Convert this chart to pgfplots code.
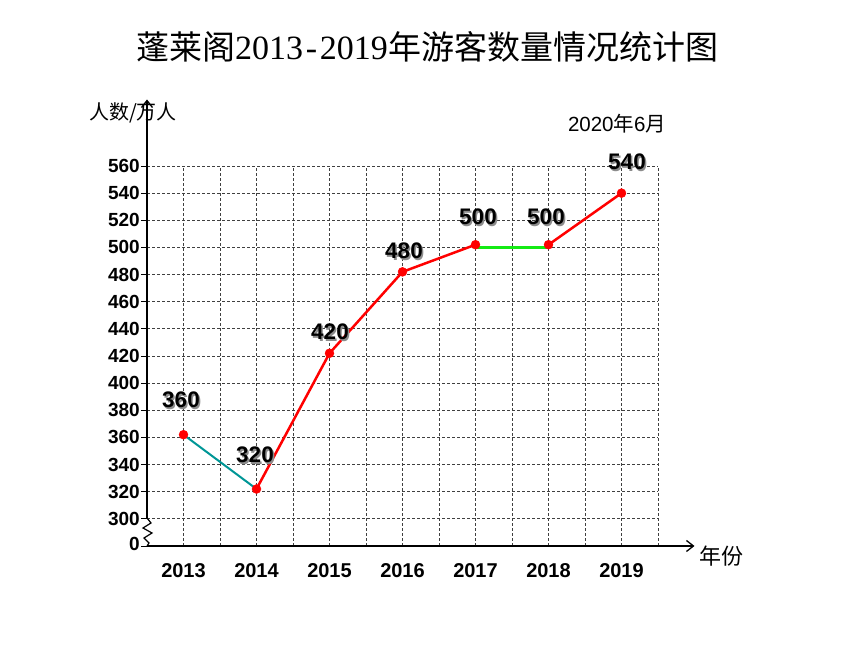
\documentclass[border=0pt]{standalone}
\usepackage{pgfplots}
\pgfplotsset{compat=1.18}
\usetikzlibrary{arrows.meta}
\usepackage{fontspec}
\setmainfont{Liberation Sans}
\newfontfamily\cjk{Noto Sans CJK SC}
\newfontfamily\titledigits{Liberation Serif}
\definecolor{myteal}{RGB}{0,150,150}
\definecolor{mygreen}{RGB}{20,235,20}
\newcommand{\vlab}[3]{%
  \node[text=black!45,font=\bfseries\fontsize{22.5}{22.5}\selectfont] at (#1+1.5,#2-1.5) {#3};
  \node[text=black,font=\bfseries\fontsize{22.5}{22.5}\selectfont] at (#1,#2) {#3};}
\begin{document}
\begin{tikzpicture}[x=1pt,y=1pt]
\path[use as bounding box] (0,0) rectangle (860,645);
\begin{axis}[
  at={(147pt,99pt)}, anchor=south west,
  width=511pt, height=380pt, scale only axis,
  xmin=-0.5, xmax=6.5, ymin=280, ymax=560,
  clip=false,
  axis line style={draw=none},
  xtick={0,1,2,3,4,5,6},
  xticklabels={2013,2014,2015,2016,2017,2018,2019},
  minor xtick={0.5,1.5,2.5,3.5,4.5,5.5,6.5},
  ytick={280,300,320,340,360,380,400,420,440,460,480,500,520,540,560},
  yticklabels={\raisebox{4pt}{0},300,320,340,360,380,400,420,440,460,480,500,520,540,560},
  xtick pos=bottom, ytick pos=left,
  tick align=outside,
  major tick length=6pt,
  xtick style={draw=none},
  ytick style={black, line width=0.8pt},
  grid=both,
  major grid style={black!75, line width=0.8pt, dash pattern=on 3pt off 2pt},
  minor grid style={black!75, line width=0.8pt, dash pattern=on 3pt off 2pt},
  /pgf/number format/assume math mode=true,
  yticklabel style={font=\bfseries\fontsize{19}{19}\selectfont, inner sep=1pt},
  xticklabel style={font=\bfseries\fontsize{20}{20}\selectfont, yshift=-8pt},
]
\draw[line width=1.3pt,-{Straight Barb[length=7pt,width=11pt]}] (axis cs:-0.5,280) -- (axis cs:7.0,280);
\draw[line width=1.3pt,-{Straight Barb[length=7pt,width=11pt]}] (axis cs:-0.5,300) -- (axis cs:-0.5,609);
\addplot[myteal, line width=2pt] coordinates {(0,362) (1,322)};
\addplot[red, line width=2.5pt] coordinates {(1,322) (2,422) (3,482) (4,502)};
\addplot[mygreen, line width=2.5pt] coordinates {(4,500) (5,500)};
\addplot[red, line width=2.5pt] coordinates {(5,502) (6,540)};
\addplot[only marks, mark=*, mark size=4.5pt, red] coordinates {(0,362) (1,322) (2,422) (3,482) (4,502) (5,502) (6,540)};
\end{axis}
% zigzag break on y axis
\draw[line width=1.2pt] (147,127) -- (151,122) -- (143,117) -- (152,112) -- (144,107) -- (149,102) -- (147,99);
% titles and labels
\node[font=\cjk\fontsize{33}{33}\selectfont, inner sep=0pt] at (427,598) {蓬莱阁{\titledigits\fontsize{34}{34}\selectfont 2013\makebox[17pt]{-}2019}年游客数量情况统计图};
\node[font=\cjk\fontsize{20}{20}\selectfont] at (133,532) {人数/万人};
\node[font=\cjk\fontsize{22}{22}\selectfont] at (721,89) {年份};
\node[font=\cjk\fontsize{20.5}{20.5}\selectfont] at (617,521) {{\rmfamily 2020}年{\rmfamily 6}月};
\vlab{181}{245}{360}
\vlab{255}{190}{320}
\vlab{330}{313}{420}
\vlab{404}{394}{480}
\vlab{478}{428}{500}
\vlab{546}{428}{500}
\vlab{627}{483}{540}
\end{tikzpicture}
\end{document}
